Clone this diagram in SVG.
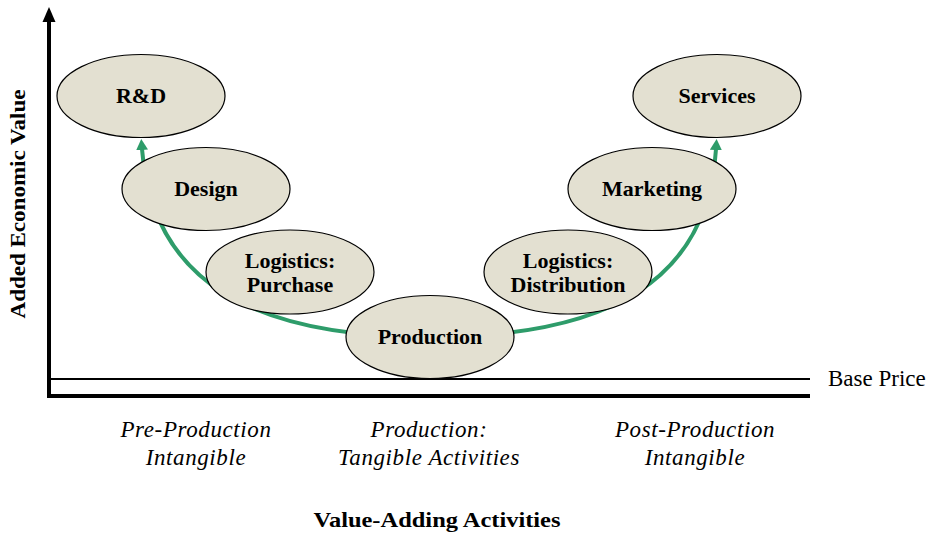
<svg xmlns="http://www.w3.org/2000/svg" width="933" height="533" viewBox="0 0 933 533">
  <style>
    .node ellipse { fill: #e3e0d1; stroke: #000; stroke-width: 1.2; }
    .node text { font-family: "Liberation Serif", "Times New Roman", serif; font-weight: bold; font-size: 22px; fill: #000; text-anchor: middle; }
    .conn { fill: none; stroke: #2e9c6a; stroke-width: 4; }
    .axis { stroke: #000; stroke-width: 4; fill: none; }
    .base { stroke: #000; stroke-width: 2; fill: none; }
    .ital { font-family: "Liberation Serif", "Times New Roman", serif; font-style: italic; font-size: 23px; fill: #000; text-anchor: middle; letter-spacing: 0.6px; }
    .reg { font-family: "Liberation Serif", "Times New Roman", serif; font-size: 23px; fill: #000; }
    .bold { font-family: "Liberation Serif", "Times New Roman", serif; font-weight: bold; font-size: 22px; fill: #000; text-anchor: middle; }
  </style>
  <defs>
    <marker id="garrow" markerUnits="userSpaceOnUse" markerWidth="12" markerHeight="12" refX="1" refY="6" orient="auto-start-reverse" viewBox="0 0 12 12">
      <path d="M0,0 L11,6 L0,12 z" fill="#2e9c6a"/>
    </marker>
  </defs>

  <g id="axes">
    <line class="axis" x1="49" y1="20" x2="49" y2="398"/>
    <polygon points="49,7 42.5,22 55.5,22" fill="#000"/>
    <line class="axis" x1="47" y1="396" x2="810" y2="396"/>
    <line class="base" x1="49" y1="379" x2="810" y2="379"/>
  </g>

  <g id="connectors">
    <path class="conn" d="M142,149 C152,280 250,337 430,337 C610,337 708,280 716,149" marker-start="url(#garrow)" marker-end="url(#garrow)"/>
  </g>

  <g id="node-rd" class="node">
    <ellipse cx="141" cy="96" rx="84" ry="41.5"/>
    <text x="141" y="103">R&amp;D</text>
  </g>
  <g id="node-design" class="node">
    <ellipse cx="206" cy="189" rx="84" ry="41.5"/>
    <text x="206" y="196">Design</text>
  </g>
  <g id="node-logistics-purchase" class="node">
    <ellipse cx="290" cy="272" rx="84" ry="42"/>
    <text x="290" y="268">Logistics:</text>
    <text x="290" y="292">Purchase</text>
  </g>
  <g id="node-production" class="node">
    <ellipse cx="430" cy="337" rx="84" ry="41.5"/>
    <text x="430" y="344">Production</text>
  </g>
  <g id="node-logistics-distribution" class="node">
    <ellipse cx="568" cy="272" rx="84" ry="42"/>
    <text x="568" y="268">Logistics:</text>
    <text x="568" y="292">Distribution</text>
  </g>
  <g id="node-marketing" class="node">
    <ellipse cx="652" cy="189" rx="84" ry="41.5"/>
    <text x="652" y="196">Marketing</text>
  </g>
  <g id="node-services" class="node">
    <ellipse cx="717" cy="96" rx="84" ry="41.5"/>
    <text x="717" y="103">Services</text>
  </g>

  <g id="labels">
    <text class="bold" transform="translate(25,204) rotate(-90)" x="0" y="0" textLength="229" lengthAdjust="spacingAndGlyphs">Added Economic Value</text>
    <text class="reg" x="828" y="386">Base Price</text>
    <text class="ital" x="196" y="437">Pre-Production</text>
    <text class="ital" x="196" y="465">Intangible</text>
    <text class="ital" x="429" y="437">Production:</text>
    <text class="ital" x="429" y="465">Tangible Activities</text>
    <text class="ital" x="695" y="437">Post-Production</text>
    <text class="ital" x="695" y="465">Intangible</text>
    <text class="bold" x="437" y="527" textLength="247" lengthAdjust="spacingAndGlyphs">Value-Adding Activities</text>
  </g>
</svg>
